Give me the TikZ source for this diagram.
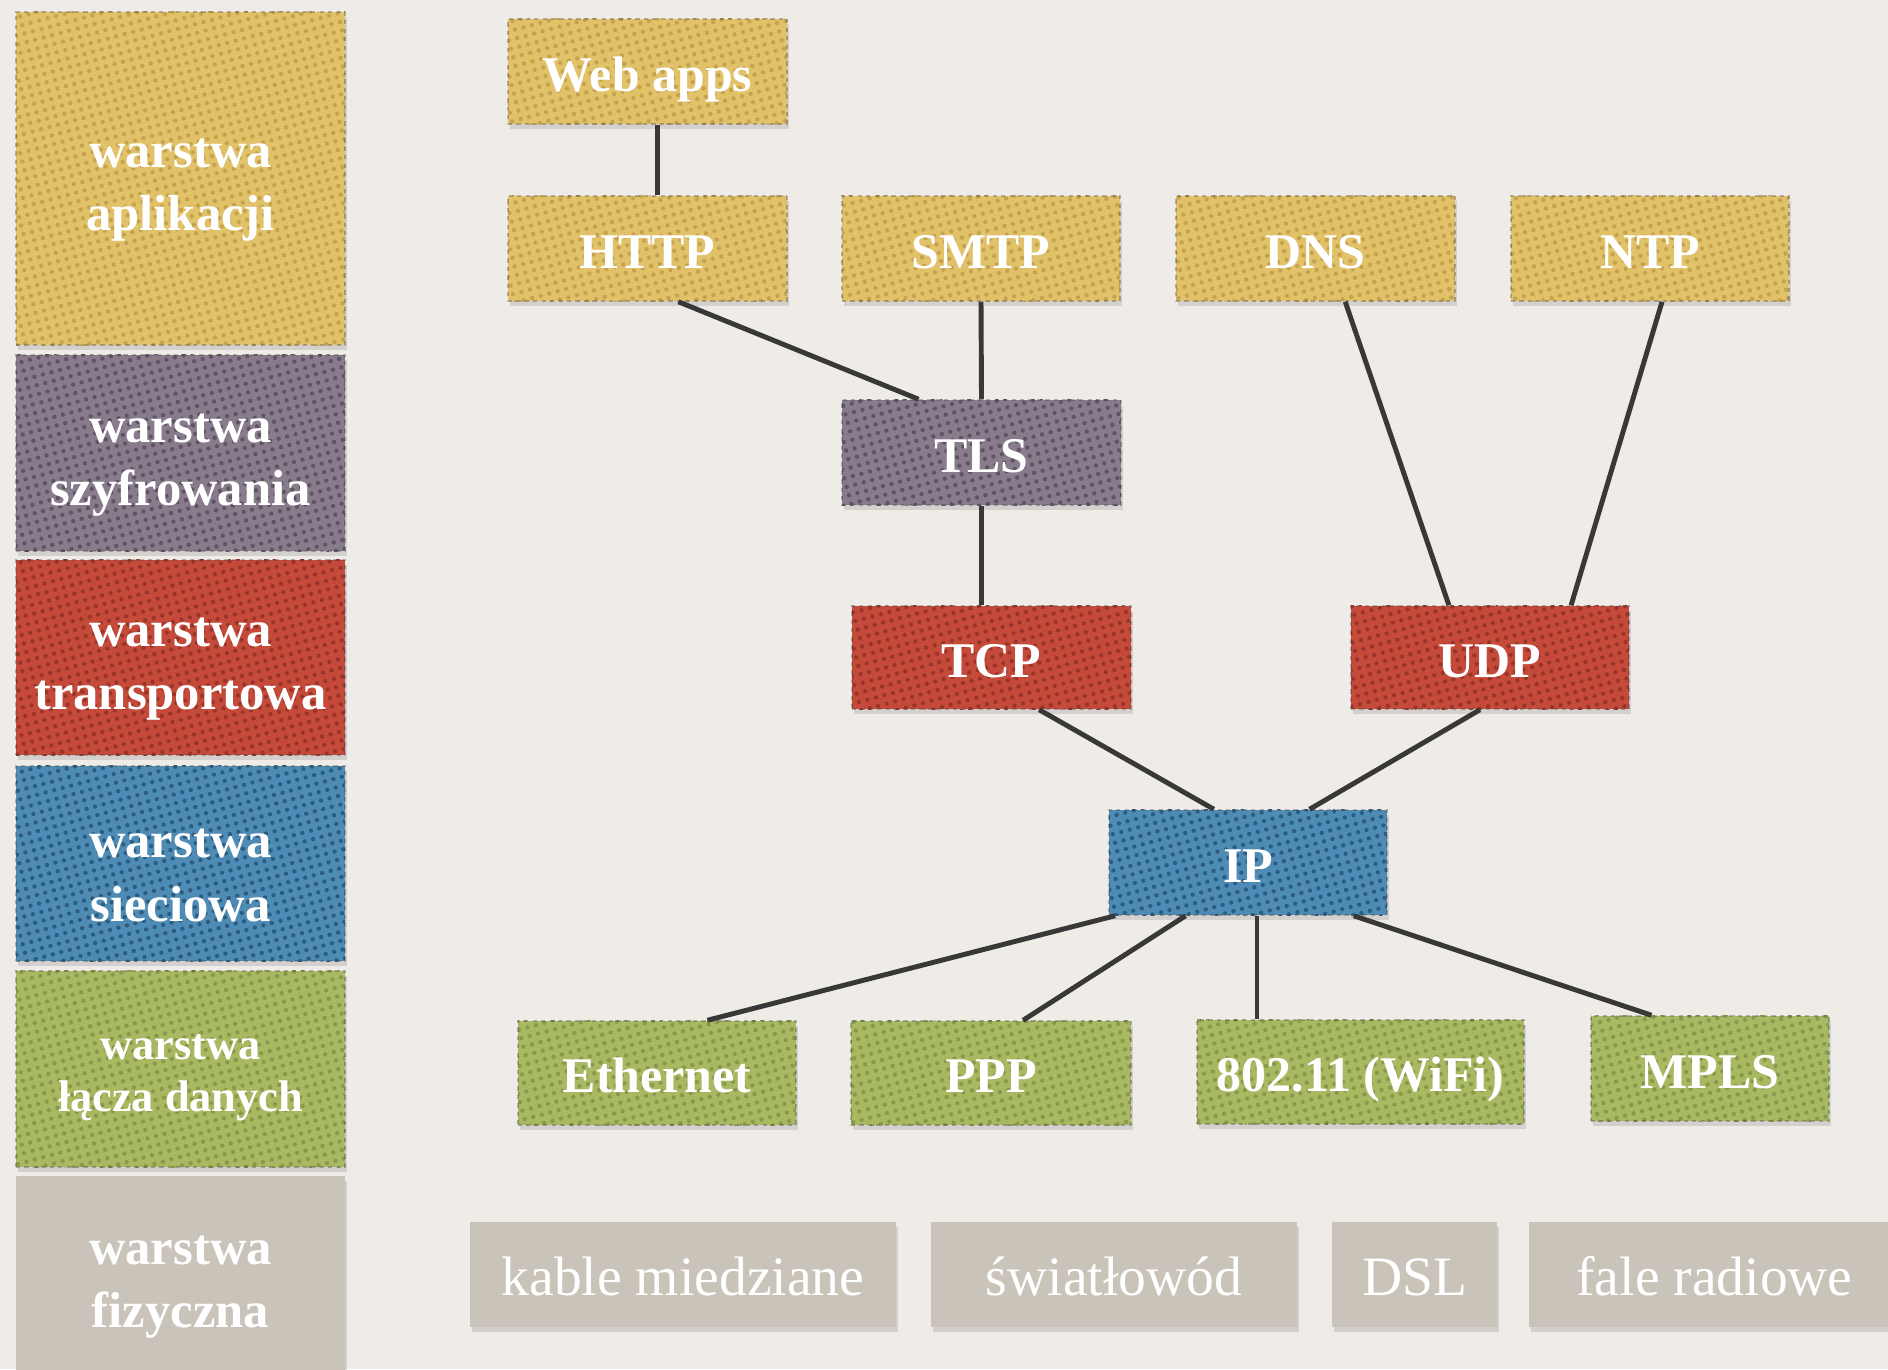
\documentclass[tikz,border=0pt]{standalone}
\usepackage{fontspec}
\setmainfont{Liberation Serif}
\usetikzlibrary{shadows,patterns.meta,calc}

\definecolor{paper}{HTML}{EFECE7}
\definecolor{linecol}{HTML}{383838}
\definecolor{appfill}{HTML}{E2C268}
\definecolor{appdot}{HTML}{C4A24F}
\definecolor{encfill}{HTML}{887B8C}
\definecolor{encdot}{HTML}{5F5364}
\definecolor{trfill}{HTML}{C64A3A}
\definecolor{trdot}{HTML}{98352A}
\definecolor{netfill}{HTML}{4F8CB5}
\definecolor{netdot}{HTML}{2C5D80}
\definecolor{linkfill}{HTML}{A9B962}
\definecolor{linkdot}{HTML}{87994A}
\definecolor{physfill}{HTML}{C9C3B9}

% small halftone dots laid over the coloured boxes
\tikzdeclarepattern{
  name=halftone,
  type=uncolored,
  bounding box={(-1.25pt,-1.25pt) and (1.25pt,1.25pt)},
  tile size={(2.5pt,2.5pt)},
  tile transformation={rotate=15},
  code={\fill (0pt,0pt) circle (0.62pt);}
}

\tikzset{
  box/.style={rectangle, inner sep=0pt, text=white, align=center,
    drop shadow={opacity=0.25, shadow xshift=0.6pt, shadow yshift=-1.4pt}},
  halftoned/.style 2 args={fill=#1,
    postaction={pattern=halftone, pattern color=#2},
    postaction={draw=black!75, draw opacity=0.35, line width=0.4pt,
      dash pattern=on 1.2pt off 1.2pt}},
  app/.style={box, halftoned={appfill}{appdot}},
  enc/.style={box, halftoned={encfill}{encdot}},
  tr/.style={box, halftoned={trfill}{trdot}},
  net/.style={box, halftoned={netfill}{netdot}},
  lnk/.style={box, halftoned={linkfill}{linkdot}},
  phys/.style={box, fill=physfill},
  layer/.style={minimum width=3.29cm},
  layertext/.style={text=white, align=center, inner sep=0pt,
    font=\fontsize{14.4}{18}\selectfont\bfseries},
  proto/.style={font=\fontsize{14.2}{17}\selectfont\bfseries,
    text height=11.3pt, text depth=0pt},
  medium/.style={font=\fontsize{15.8}{18}\selectfont, minimum height=1.05cm,
    text height=12pt, text depth=0pt},
  link/.style={draw=linecol, line width=1.4pt},
}

\begin{document}
\begin{tikzpicture}[x=0.01cm, y=-0.01cm]
\useasboundingbox (0,0) rectangle (1888,1369);
\fill[paper] (0,0) rectangle (1888,1369);

% layer column: boxes
\node[app, layer, minimum height=3.33cm] (lapp) at (180.5,178.5) {};
\node[enc, layer, minimum height=1.96cm] (lenc) at (180.5,453) {};
\node[tr, layer, minimum height=1.95cm] (ltr) at (180.5,657.5) {};
\node[net, layer, minimum height=1.95cm] (lnet) at (180.5,863.5) {};
\node[lnk, layer, minimum height=1.96cm] (llink) at (180.5,1069) {};
\node[phys, layer, minimum height=2.04cm] (lphys) at (180.5,1278) {};

% layer column: names
\node[layertext] (lapp-name) at ([yshift=-3.4pt]lapp.center) {warstwa\\aplikacji};
\node[layertext] (lenc-name) at ([yshift=-3.4pt]lenc.center) {warstwa\\szyfrowania};
\node[layertext] (ltr-name) at ([yshift=-3.4pt]ltr.center) {warstwa\\transportowa};
\node[layertext] (lnet-name) at ([yshift=-3.4pt]lnet.center) {warstwa\\sieciowa};
\node[layertext, font=\fontsize{12.6}{14.8}\selectfont\bfseries] (llink-name) at ([yshift=-2.6pt]llink.center) {warstwa\\łącza danych};
\node[layertext] (lphys-name) at ([yshift=-2.6pt]lphys.center) {warstwa\\fizyczna};

% application protocols
\node[app, proto, minimum width=2.79cm, minimum height=1.05cm] (web) at (647.5,71.5) {Web apps};
\node[app, proto, minimum width=2.79cm, minimum height=1.05cm] (http) at (647.5,248.5) {HTTP};
\node[app, proto, minimum width=2.78cm, minimum height=1.05cm] (smtp) at (981,248.5) {SMTP};
\node[app, proto, minimum width=2.79cm, minimum height=1.05cm] (dns) at (1315.5,248.5) {DNS};
\node[app, proto, minimum width=2.78cm, minimum height=1.05cm] (ntp) at (1650,248.5) {NTP};

% encryption
\node[enc, proto, minimum width=2.79cm, minimum height=1.05cm] (tls) at (981.5,452.5) {TLS};

% transport
\node[tr, proto, minimum width=2.79cm, minimum height=1.03cm] (tcp) at (991.5,657.5) {TCP};
\node[tr, proto, minimum width=2.78cm, minimum height=1.03cm] (udp) at (1490,657.5) {UDP};

% network
\node[net, proto, minimum width=2.78cm, minimum height=1.05cm] (ip) at (1248,862.5) {IP};

% data link
\node[lnk, proto, minimum width=2.78cm, minimum height=1.04cm] (eth) at (657,1073) {Ethernet};
\node[lnk, proto, minimum width=2.80cm, minimum height=1.04cm] (ppp) at (991,1073) {PPP};
\node[lnk, proto, minimum width=3.27cm, minimum height=1.04cm] (wifi) at (1360.5,1072) {802.11 (WiFi)};
\node[lnk, proto, minimum width=2.38cm, minimum height=1.05cm] (mpls) at (1710,1068.5) {MPLS};

% physical media
\node[phys, medium, minimum width=4.26cm] (copper) at (683,1274.5) {kable miedziane};
\node[phys, medium, minimum width=3.66cm] (fibre) at (1114,1274.5) {światłowód};
\node[phys, medium, minimum width=1.65cm] (dsl) at (1414.5,1274.5) {DSL};
\node[phys, medium, minimum width=3.71cm] (radio) at (1714.5,1274.5) {fale radiowe};

% connectors
\draw[link] ($(web.south west)!0.534!(web.south east)$) -- ($(http.north west)!0.534!(http.north east)$);
\draw[link] ($(http.south west)!0.61!(http.south east)$) -- ($(tls.north west)!0.276!(tls.north east)$);
\draw[link] (smtp.south) -- (tls.north);
\draw[link] (tls.south) -- (tls.south |- tcp.north);
\draw[link] ($(dns.south west)!0.606!(dns.south east)$) -- ($(udp.north west)!0.353!(udp.north east)$);
\draw[link] ($(ntp.south west)!0.543!(ntp.south east)$) -- ($(udp.north west)!0.79!(udp.north east)$);
\draw[link] ($(tcp.south west)!0.67!(tcp.south east)$) -- ($(ip.north west)!0.378!(ip.north east)$);
\draw[link] ($(udp.south west)!0.464!(udp.south east)$) -- ($(ip.north west)!0.72!(ip.north east)$);
\draw[link] ($(ip.south west)!0.025!(ip.south east)$) -- ($(eth.north west)!0.68!(eth.north east)$);
\draw[link] ($(ip.south west)!0.277!(ip.south east)$) -- ($(ppp.north west)!0.614!(ppp.north east)$);
\draw[link] ($(ip.south west)!0.532!(ip.south east)$) coordinate (ipw) -- (ipw |- wifi.north);
\draw[link] ($(ip.south west)!0.878!(ip.south east)$) -- ($(mpls.north west)!0.256!(mpls.north east)$);
\end{tikzpicture}
\end{document}
